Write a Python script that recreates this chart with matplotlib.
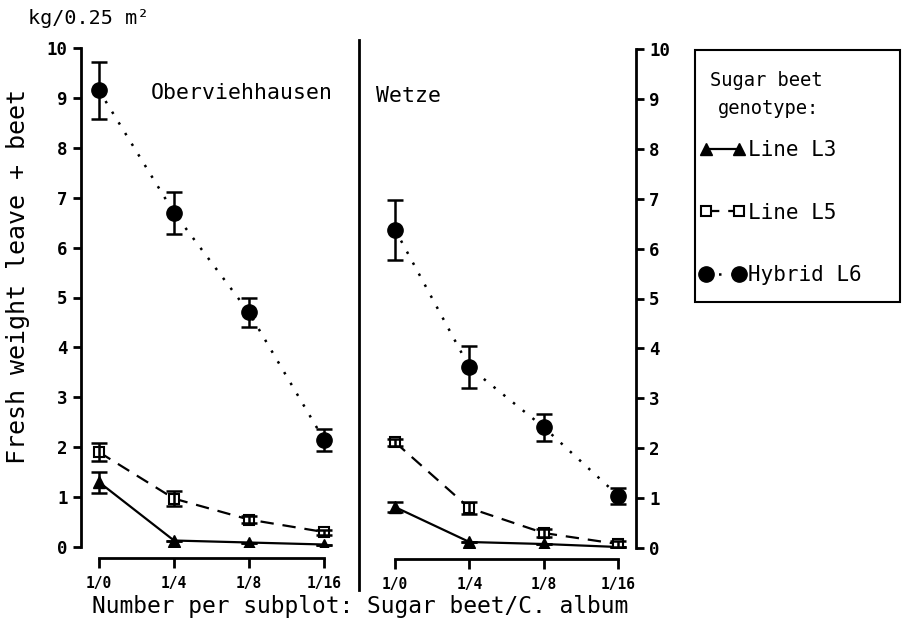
import matplotlib
matplotlib.use("Agg")
import matplotlib.pyplot as plt
from matplotlib.lines import Line2D
from matplotlib.patches import Rectangle

# ---- data ----
densities = ["1/0", "1/4", "1/8", "1/16"]
yticks = list(range(0, 11))

obv_L3 = [1.30, 0.13, 0.09, 0.05]
obv_L3_err = [0.21, 0.0, 0.0, 0.0]
obv_L5 = [1.90, 0.97, 0.55, 0.30]
obv_L5_err = [0.18, 0.15, 0.07, 0.05]
obv_L6 = [9.15, 6.70, 4.70, 2.15]
obv_L6_err = [0.57, 0.42, 0.29, 0.22]

wet_L3 = [0.82, 0.12, 0.08, 0.02]
wet_L3_err = [0.10, 0.0, 0.0, 0.0]
wet_L5 = [2.12, 0.80, 0.30, 0.08]
wet_L5_err = [0.07, 0.12, 0.08, 0.06]
wet_L6 = [6.38, 3.62, 2.42, 1.05]
wet_L6_err = [0.60, 0.42, 0.27, 0.16]

plt.rcParams['font.family'] = ['DejaVu Sans Mono', 'DejaVu Sans']

W, H = 906, 629
fig = plt.figure(figsize=(W / 100, H / 100), dpi=100)

def px_axes(x0, x1, ytop, ybot):
    return fig.add_axes([x0 / W, 1 - ybot / H, (x1 - x0) / W, (ybot - ytop) / H])

axL = px_axes(81, 359, 48, 547)
axR = px_axes(359, 636, 49, 548)

xs = list(range(len(densities)))

def draw(ax, L3, L3e, L5, L5e, L6, L6e):
    h3, = ax.plot(xs, L3, color='black', lw=1.6, ls='-', marker='^', ms=8,
                  mfc='black', mec='black', zorder=3, label='Line L3')
    ax.errorbar(xs, L3, yerr=L3e, fmt='none', ecolor='black', elinewidth=1.8,
                capsize=6, capthick=1.8, zorder=3)
    h5, = ax.plot(xs, L5, color='black', lw=1.6, ls=(0, (6, 4)), marker='s', ms=7,
                  mfc='white', mec='black', mew=1.5, zorder=3, label='Line L5')
    ax.errorbar(xs, L5, yerr=L5e, fmt='none', ecolor='black', elinewidth=1.8,
                capsize=6, capthick=1.8, zorder=3)
    h6, = ax.plot(xs, L6, color='black', lw=1.8, ls=(0, (1, 4)), marker='o', ms=11,
                  mfc='black', mec='black', zorder=3, label='Hybrid L6')
    ax.errorbar(xs, L6, yerr=L6e, fmt='none', ecolor='black', elinewidth=1.8,
                capsize=6, capthick=1.8, zorder=3)
    ax.set_ylim(0, 10)
    ax.set_yticks(yticks)
    ax.set_xticks(xs)
    ax.set_xticklabels(densities)
    ax.spines['top'].set_visible(False)
    ax.spines['bottom'].set_position(('outward', 8))
    ax.spines['bottom'].set_bounds(0, 3)
    ax.spines['bottom'].set_linewidth(2)
    ax.tick_params(axis='x', direction='out', length=7, width=2, pad=6, labelsize=10.5)
    ax.tick_params(axis='y', direction='out', length=6, width=2, labelsize=12.5)
    ax.patch.set_alpha(0)
    return h3, h5, h6

handles = draw(axL, obv_L3, obv_L3_err, obv_L5, obv_L5_err, obv_L6, obv_L6_err)
draw(axR, wet_L3, wet_L3_err, wet_L5, wet_L5_err, wet_L6, wet_L6_err)

axL.set_xlim(-0.24, 3.467)
axR.set_xlim(-0.485, 3.24)
axL.spines['right'].set_visible(False)
axL.spines['left'].set_linewidth(2)
axR.spines['left'].set_visible(False)
axR.spines['right'].set_linewidth(2)
axR.yaxis.tick_right()
axR.yaxis.set_label_position('right')
for ax in (axL, axR):
    for t in ax.get_yticklabels() + ax.get_xticklabels():
        t.set_fontweight('bold')

axL.text(0.25, 0.91, "Oberviehhausen", transform=axL.transAxes, fontsize=15.5,
         va='center', ha='left')
axR.text(0.06, 0.905, "Wetze", transform=axR.transAxes, fontsize=15.5,
         va='center', ha='left')

# divider line
fig.add_artist(Line2D([359 / W, 359 / W], [1 - 40 / H, 1 - 590 / H], color='black', lw=2))

fig.text(28 / W, 1 - 18 / H, "kg/0.25 m\u00b2", fontsize=14.5, va='center', ha='left')
fig.text(18 / W, 1 - 277 / H, "Fresh weight leave + beet", fontsize=18, rotation=90,
         va='center', ha='center')
fig.text(360 / W, 1 - 607 / H, "Number per subplot: Sugar beet/C. album", fontsize=16.5,
         va='center', ha='center')

# legend: frame, title lines and entries
fig.add_artist(Rectangle((695 / W, 1 - 302 / H), 205 / W, 252 / H, fill=False,
                         edgecolor='black', lw=1.5, transform=fig.transFigure))
fig.text(710 / W, 1 - 80 / H, "Sugar beet", fontsize=13.5, va='center', ha='left')
fig.text(718 / W, 1 - 108 / H, "genotype:", fontsize=13.5, va='center', ha='left')
leg = fig.legend(handles, [h.get_label() for h in handles], loc='upper left',
                 bbox_to_anchor=(700 / W, 1 - 140 / H),
                 fontsize=15, frameon=False, numpoints=2, handlelength=2.16,
                 handletextpad=0.15, labelspacing=2.05, borderpad=0, borderaxespad=0)

fig.savefig("out.png", dpi=100)
